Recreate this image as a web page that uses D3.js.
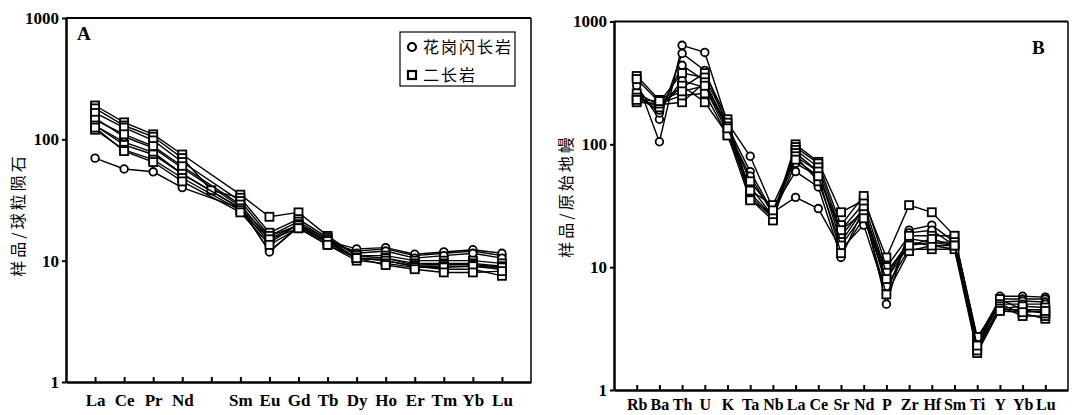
<!DOCTYPE html>
<html>
<head>
<meta charset="utf-8">
<script src="https://cdn.jsdelivr.net/npm/d3@7"></script>
<style>
body{margin:0;background:#fff;}
.tick text{font-family:"Liberation Serif","DejaVu Serif",serif;font-weight:bold;fill:#000;}
.cjk{font-family:"Noto Sans CJK SC",sans-serif;}
</style>
</head>
<body>
<div id="chart"></div>
<script>
// chart A: chondrite normalized REE (Pm slot stays empty except one sample)
var reeElements=["La","Ce","Pr","Nd","Pm","Sm","Eu","Gd","Tb","Dy","Ho","Er","Tm","Yb","Lu"];
var reeLabels=["La","Ce","Pr","Nd","","Sm","Eu","Gd","Tb","Dy","Ho","Er","Tm","Yb","Lu"];
// 花岗闪长岩 (circles)
var reeGranodiorite=[
    [70,57,54,40,null,27,12,19,14,12,12.5,11,11.5,12,11],
    [150,105,85,58,null,28,11.8,19,14.5,12.5,12.8,11.3,11.8,12.3,11.5],
    [130,95,78,52,null,27,14,20,15,11.5,12,10.5,11,11.5,10.5]
];
// 二长岩 (squares)
var reeMonzonite=[
    [190,138,110,75,null,35,23,25,16,11,11,10,10,10,9.5],
    [180,130,105,70,38,33,17,22,15.5,11,10.5,9.5,9.5,9.5,9],
    [165,125,98,65,null,31,16,21,15,10.5,10.5,9.2,9.3,9.3,8.8],
    [145,110,88,60,null,29,15,20,14,10.5,10,9,8.5,8.5,7.5],
    [130,90,75,52,null,27,16,19.5,14.5,10.5,10,9,9,9,8.5],
    [120,82,68,48,null,26,15,18.5,13.5,10,9.5,8.8,8.8,9,8.8],
    [125,80,65,45,null,25,13.5,18.5,13.5,10.5,9.2,8.5,8,8,8.2]
];

// chart B: primitive mantle normalized spider diagram
var spiderElements=["Rb","Ba","Th","U","K","Ta","Nb","La","Ce","Sr","Nd","P","Zr","Hf","Sm","Ti","Y","Yb","Lu"];
var spiderGranodiorite=[
    [330,105,640,560,150,80,30,60,45,12,30,5,20,22,16,2.1,5.8,5.8,5.7],
    [300,160,550,400,140,60,28,37,30,14,22,6,19,20,15,2.3,5.5,5.5,5.5],
    [260,180,440,330,130,55,27,80,60,18,30,8,17,16,15,2.5,5.2,5.3,5.2],
    [240,190,330,290,125,45,26,70,55,20,28,9,16,15,14,2.4,5,5,5]
];
var spiderMonzonite=[
    [360,230,290,380,160,40,26,100,72,28,35,12,32,28,18,2.6,5.5,4.5,4.5],
    [340,220,380,350,150,38,25,95,70,22,38,10,18,18,18,2.7,5,4.2,3.8],
    [260,210,220,320,140,36,24,90,65,20,33,9,15,16,16,2.2,4.8,4,4],
    [240,200,300,220,120,35,27,85,60,16,30,7,14,14,14,2,4.5,4.5,4.2],
    [220,215,250,260,118,42,32,80,50,15,27,6,13.5,15,15,2.1,4.6,4.8,4.7],
    [230,225,270,300,135,50,29,75,55,13,25,8,15,17,15,2.3,4.4,4.3,4.4]
];

var yTicks=[1,10,100,1000];

var svg=d3.select("#chart")
    .append("svg")
    .attr("width",1075)
    .attr("height",415);

function drawPanel(p){
    var width=p.right-p.left;
    var height=p.bottom-p.top;
    var g=svg.append("g")
        .attr("transform",`translate(${p.left},${p.top})`);

    var x=d3.scalePoint()
        .domain(p.elements)
        .range([0,width])
        .padding(1);
    var y=d3.scaleLog()
        .domain([1,1000])
        .range([height,0]);

    // frame
    g.append("line").attr("x1",0).attr("x2",width).attr("y1",0).attr("y2",0)
        .attr("stroke","#000").attr("stroke-width",2);
    g.append("line").attr("x1",width).attr("x2",width).attr("y1",0).attr("y2",height)
        .attr("stroke","#000").attr("stroke-width",1.5);

    var leftAxis=d3.axisLeft(y)
        .tickValues(yTicks)
        .tickFormat(d3.format("d"))
        .tickSize(4)
        .tickSizeOuter(0)
        .tickPadding(3);
    var yAxis=g.append("g").call(leftAxis);
    yAxis.select(".domain").attr("stroke-width",2.5);
    yAxis.selectAll(".tick line").attr("stroke-width",2);
    yAxis.selectAll(".tick text").style("font-size","17px");

    var bottomAxis=d3.axisBottom(x)
        .tickSize(-5)
        .tickSizeOuter(0)
        .tickPadding(p.labelPad)
        .tickFormat((d,i)=>p.labels[i]);
    var xAxis=g.append("g")
        .attr("transform",`translate(0,${height})`)
        .call(bottomAxis);
    xAxis.select(".domain").attr("stroke-width",2.5);
    xAxis.selectAll(".tick line").attr("stroke-width",2);
    xAxis.selectAll(".tick text").style("font-size",p.labelSize).attr("dy","0.71em");

    var line=d3.line()
        .x(d=>x(d.el))
        .y(d=>y(d.v));

    var samples=[];
    p.circles.forEach(function(row){ samples.push({shape:"circle",row:row}); });
    p.squares.forEach(function(row){ samples.push({shape:"square",row:row}); });

    samples.forEach(function(s){
        var pts=s.row.map((v,i)=>({el:p.elements[i],v:v})).filter(d=>d.v!=null);
        g.append("path")
            .datum(pts)
            .attr("d",line)
            .attr("fill","none")
            .attr("stroke","#000")
            .attr("stroke-width",1.4);
        if(s.shape==="circle"){
            g.selectAll(null)
                .data(pts)
                .enter()
                .append("circle")
                .attr("cx",d=>x(d.el))
                .attr("cy",d=>y(d.v))
                .attr("r",3.8)
                .attr("fill","#fff")
                .attr("stroke","#000")
                .attr("stroke-width",1.8);
        } else {
            g.selectAll(null)
                .data(pts)
                .enter()
                .append("rect")
                .attr("x",d=>x(d.el)-4)
                .attr("y",d=>y(d.v)-4)
                .attr("width",8)
                .attr("height",8)
                .attr("fill","#fff")
                .attr("stroke","#000")
                .attr("stroke-width",1.8);
        }
    });

    // panel letter
    g.append("text")
        .attr("x",p.letterX)
        .attr("y",p.letterY)
        .attr("font-family","Liberation Serif, serif")
        .attr("font-weight","bold")
        .attr("font-size","19px")
        .text(p.letter);

    // y axis title
    svg.append("text")
        .attr("class","cjk")
        .attr("transform",`translate(${p.titleX},${p.titleY}) rotate(-90)`)
        .attr("text-anchor","middle")
        .attr("font-size","16px")
        .attr("letter-spacing","3px")
        .text(p.title);

    return g;
}

drawPanel({
    left:66,top:18,right:531,bottom:382,
    elements:reeElements,labels:reeLabels,labelPad:12,labelSize:"17px",
    circles:reeGranodiorite,squares:reeMonzonite,
    letter:"A",letterX:11,letterY:22,
    title:"样品/球粒陨石",titleX:24,titleY:215
});

drawPanel({
    left:614,top:21.5,right:1068,bottom:390,
    elements:spiderElements,labels:spiderElements,labelPad:9,labelSize:"16px",
    circles:spiderGranodiorite,squares:spiderMonzonite,
    letter:"B",letterX:418,letterY:32,
    title:"样品/原始地幔",titleX:572,titleY:196
});

// legend in panel A
var legend=svg.append("g").attr("transform","translate(400,32)");
legend.append("rect")
    .attr("width",115)
    .attr("height",54)
    .attr("fill","#fff")
    .attr("stroke","#000")
    .attr("stroke-width",1.2);
legend.append("circle")
    .attr("cx",12).attr("cy",15).attr("r",4)
    .attr("fill","#fff").attr("stroke","#000").attr("stroke-width",2.2);
legend.append("rect")
    .attr("x",8).attr("y",39).attr("width",8).attr("height",8)
    .attr("fill","#fff").attr("stroke","#000").attr("stroke-width",2.2);
legend.append("text")
    .attr("class","cjk")
    .attr("x",23).attr("y",21)
    .attr("font-size","16px")
    .attr("letter-spacing","2px")
    .text("花岗闪长岩");
legend.append("text")
    .attr("class","cjk")
    .attr("x",23).attr("y",49)
    .attr("font-size","16px")
    .attr("letter-spacing","2px")
    .text("二长岩");
</script>
</body>
</html>
